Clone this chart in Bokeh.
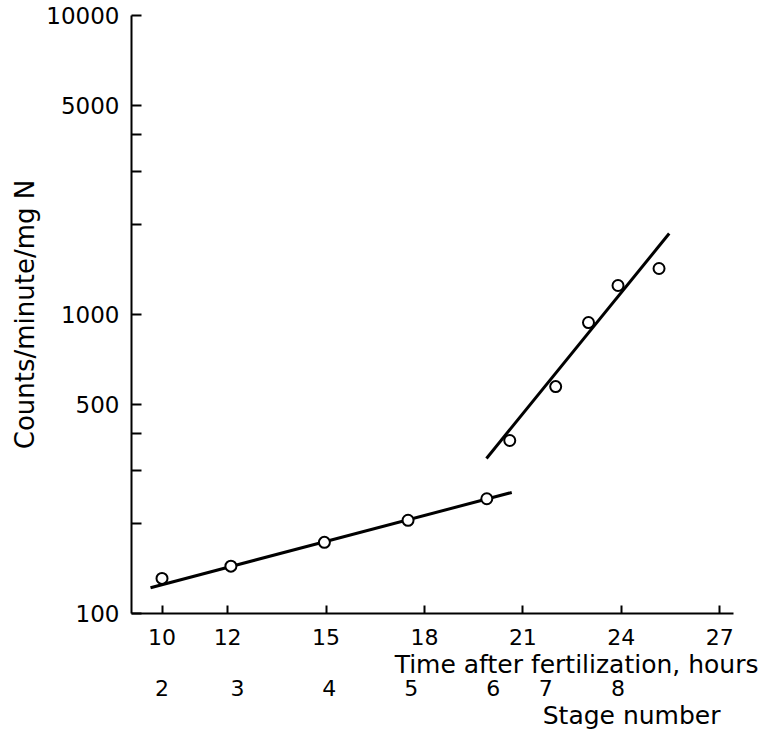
from bokeh.plotting import figure
from bokeh.models import (FixedTicker, PrintfTickFormatter, LinearAxis, Title, Range1d)
from bokeh.embed import file_html
from bokeh.resources import INLINE

# ---- data ----
hours_early = [10.0, 12.1, 14.95, 17.5, 19.9]
counts_early = [131, 144, 173, 205, 242]
hours_late = [20.6, 22.0, 23.0, 23.9, 25.15]
counts_late = [379, 574, 940, 1250, 1425]

fit_early_hours = [9.65, 20.66]
fit_early_counts = [122, 254]
fit_late_hours = [19.89, 25.46]
fit_late_counts = [330, 1866]

x_ticks = [10, 12, 15, 18, 21, 24, 27]
y_major_ticks = [100, 500, 1000, 5000, 10000]
y_minor_ticks = [200, 300, 400, 2000, 3000, 4000]

stage_hours = [10.0, 12.3, 15.1, 17.6, 20.1, 21.7, 23.9]
stage_labels = ["2", "3", "4", "5", "6", "7", "8"]

FONT = "DejaVu Sans"

p = figure(width=761, height=734, y_axis_type="log",
           x_range=Range1d(9.07, 27.42), y_range=Range1d(100, 10000),
           output_backend="svg", toolbar_location=None,
           min_border_left=131, min_border_right=28,
           min_border_top=15, min_border_bottom=121)
p.outline_line_color = None
p.xgrid.visible = False
p.ygrid.visible = False
p.background_fill_color = "white"
p.border_fill_color = "white"

# x axis
xa = p.xaxis[0]
xa.ticker = FixedTicker(ticks=x_ticks, minor_ticks=[])
xa.axis_line_width = 2
xa.axis_line_color = "black"
xa.major_tick_in = 8
xa.major_tick_out = 0
xa.major_tick_line_width = 2
xa.minor_tick_line_color = None
xa.major_label_text_font = FONT
xa.major_label_text_font_size = "22px"
xa.major_label_text_color = "black"
xa.major_label_standoff = 15

# y axis
ya = p.yaxis[0]
ya.ticker = FixedTicker(ticks=y_major_ticks, minor_ticks=y_minor_ticks)
ya.formatter = PrintfTickFormatter(format="%d")
ya.axis_line_width = 2
ya.axis_line_color = "black"
ya.major_tick_in = 10
ya.major_tick_out = 0
ya.minor_tick_in = 10
ya.minor_tick_out = 0
ya.major_tick_line_width = 2
ya.minor_tick_line_width = 2
ya.minor_tick_line_color = "black"
ya.major_label_text_font = FONT
ya.major_label_text_font_size = "23px"
ya.major_label_text_color = "black"
ya.major_label_standoff = 12
ya.axis_label = "Counts/minute/mg N"
ya.axis_label_text_font = FONT
ya.axis_label_text_font_size = "26px"
ya.axis_label_text_font_style = "normal"
ya.axis_label_text_color = "black"
ya.axis_label_standoff = 3


def make_title(text, offset):
    t = Title(text=text, align="right", offset=offset, text_font=FONT,
              text_font_size="25px", text_font_style="normal", text_color="black")
    if "standoff" in Title.properties():
        t.standoff = 0
    return t


# x-axis title, right-aligned as in the reference
p.add_layout(make_title("Time after fertilization, hours", -25), "below")

# stage-number axis
sa = LinearAxis(ticker=FixedTicker(ticks=stage_hours, minor_ticks=[]),
                major_label_overrides={h: s for h, s in zip(stage_hours, stage_labels)})
sa.axis_line_color = None
sa.major_tick_line_color = None
sa.minor_tick_line_color = None
sa.major_tick_in = 0
sa.major_tick_out = 0
sa.major_label_text_font = FONT
sa.major_label_text_font_size = "22px"
sa.major_label_text_color = "black"
sa.major_label_standoff = 1
p.add_layout(sa, "below")

p.add_layout(make_title("Stage number", 13), "below")

# fitted lines
p.line(fit_early_hours, fit_early_counts, line_color="black", line_width=3)
p.line(fit_late_hours, fit_late_counts, line_color="black", line_width=3)

# points
p.scatter(hours_early, counts_early, marker="circle", size=11,
          fill_color="white", line_color="black", line_width=2)
p.scatter(hours_late, counts_late, marker="circle", size=11,
          fill_color="white", line_color="black", line_width=2)

open("out.html", "w").write(file_html(p, INLINE))
